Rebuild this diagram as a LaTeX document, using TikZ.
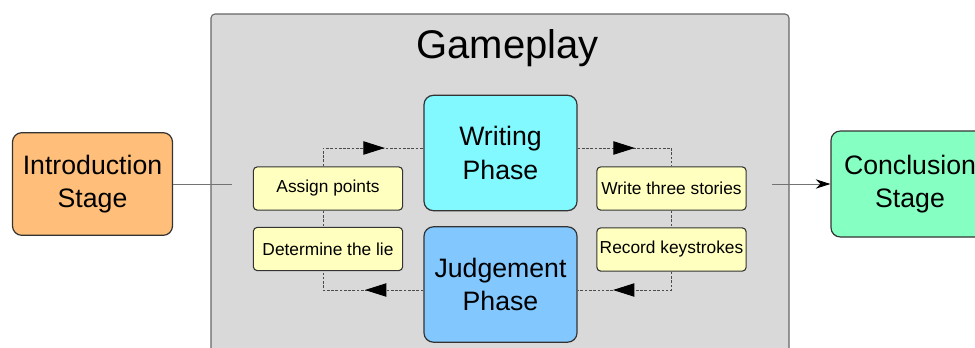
\documentclass[tikz,border=0pt]{standalone}
\usepackage{fontspec}
\setmainfont{Liberation Sans}
\usepackage{xcolor}
\usetikzlibrary{arrows.meta, decorations.markings, positioning}

\definecolor{introfill}{HTML}{FFBF7A}
\definecolor{conclfill}{HTML}{85FFC2}
\definecolor{writefill}{HTML}{82F8FF}
\definecolor{judgefill}{HTML}{82C8FF}
\definecolor{taskfill}{HTML}{FFFFC0}

\begin{document}
\begin{tikzpicture}[x=0.75pt,y=-0.75pt,
  stagebox/.style={draw=black!80,line width=0.9pt,rounded corners=7pt,minimum width=120pt,minimum height=77pt,align=center,font=\fontsize{20}{25}\selectfont},
  phasebox/.style={stagebox,minimum width=114.75pt,minimum height=86.5pt},
  taskbox/.style={draw=black!80,line width=0.8pt,rounded corners=3pt,fill=taskfill,minimum width=112pt,minimum height=32.5pt,inner sep=1pt,font=\fontsize{13}{15}\selectfont},
  flow/.style={draw=black!70,line width=0.7pt,dash pattern=on 2pt off 1.2pt,postaction={decorate}},
  midarrow/.style={decoration={markings,mark=at position #1 with {\arrow[black]{Triangle[length=16pt,width=10pt]}}}},
  link/.style={draw=black!55,line width=0.6pt}
]
\clip (0,0) rectangle (975,347);

\node[draw=black!60,line width=0.8pt,fill=black!15,rounded corners=3pt,minimum width=433.5pt,minimum height=259.5pt,inner sep=0pt] (game) at (500,187) {};
\node[font=\fontsize{30}{36}\selectfont] (title) at (507.5,48) {Gameplay};

\node[stagebox,fill=introfill] (intro) at (92.5,184) {Introduction\\Stage};
\node[stagebox,fill=conclfill,minimum width=118.5pt,minimum height=79.5pt] (concl) at (910,184) {Conclusion\\Stage};

\node[phasebox,fill=writefill] (writing) at (500.5,153) {Writing\\Phase};
\node[phasebox,fill=judgefill] (judge) at (500.5,284.5) {Judgement\\Phase};

\node[taskbox] (assign) at (328,188.5) {Assign points};
\node[taskbox] (determine) at (328,249) {Determine the lie};
\node[taskbox] (stories) at (671.5,188.5) {Write three stories};
\node[taskbox] (record) at (671.5,249.5) {Record keystrokes};

\coordinate (lt) at (323,148);
\coordinate (lb) at (323,290);
\coordinate (rt) at (671.5,148);
\coordinate (rb) at (671.5,290);
\coordinate (gin) at (232,184);
\coordinate (gout) at (772,184);

% stage links
\draw[link] (intro.east) -- (gin);
\draw[link,-{Stealth[length=11pt,width=7pt,black]}] (gout) -- (concl.west);

% loop inside gameplay
\draw[flow,midarrow=0.675] (assign.north -| lt) -- (lt) -- (writing.west |- lt);
\draw[flow] (assign.south -| lt) -- (determine.north -| lt);
\draw[flow,midarrow=0.51] (writing.east |- rt) -- (rt) -- (stories.north);
\draw[flow] (stories.south) -- (record.north);
\draw[flow,midarrow=0.684] (record.south) -- (rb) -- (judge.east |- rb);
\draw[flow,midarrow=0.49] (judge.west |- lb) -- (lb) -- (determine.south -| lb);
\end{tikzpicture}
\end{document}
